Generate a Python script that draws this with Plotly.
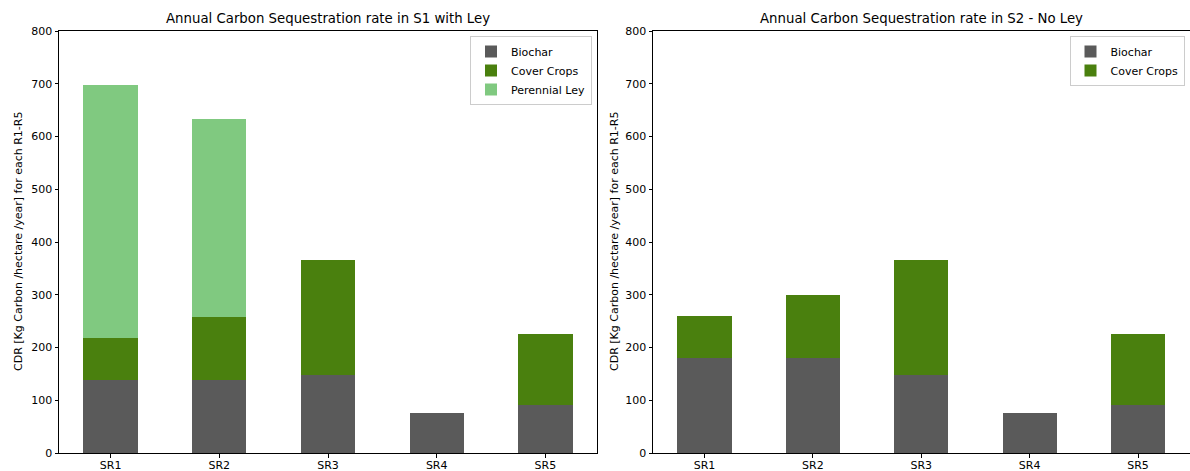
import plotly.graph_objects as go

categories = ["SR1", "SR2", "SR3", "SR4", "SR5"]

# Scenario S1 (with ley) – kg C / ha / year
s1_biochar = [138, 138, 147, 75, 91]
s1_cover = [80, 120, 218, 0, 134]
s1_ley = [480, 375, 0, 0, 0]

# Scenario S2 (no ley)
s2_biochar = [181, 181, 147, 75, 91]
s2_cover = [79, 119, 218, 0, 134]

y_ticks = [0, 100, 200, 300, 400, 500, 600, 700, 800]

C_BIOCHAR = "#5a5a5a"
C_COVER = "#4a800e"
C_LEY = "#80c980"

FONT = "DejaVu Sans"
W, H = 1190, 471
fig = go.Figure()

def add_bar(name, vals, color, xa, ya, legend, show=True):
    fig.add_trace(go.Bar(
        x=categories, y=vals, name=name, width=0.5,
        marker=dict(color=color, line=dict(width=0)),
        xaxis=xa, yaxis=ya, legend=legend, showlegend=show,
    ))

add_bar("Biochar", s1_biochar, C_BIOCHAR, "x", "y", "legend")
add_bar("Cover Crops", s1_cover, C_COVER, "x", "y", "legend")
add_bar("Perennial Ley", s1_ley, C_LEY, "x", "y", "legend")
add_bar("Biochar", s2_biochar, C_BIOCHAR, "x2", "y2", "legend2")
add_bar("Cover Crops", s2_cover, C_COVER, "x2", "y2", "legend2")

y_top = 1 - 31 / H
y_bot = 1 - 453 / H
d1 = [59 / W, 597 / W]
d2 = [653 / W, 1189.5 / W]

axis_common = dict(
    showline=True, linecolor="black", linewidth=1, mirror=True,
    ticks="outside", ticklen=3.5, tickcolor="black", showgrid=False,
    zeroline=False, automargin=False,
    tickfont=dict(family=FONT, size=11, color="black"),
)

xa = dict(axis_common, type="category", range=[-0.475, 4.475],
          ticklabelstandoff=-2)
ya = dict(axis_common, range=[0, 800], tickvals=y_ticks, domain=[y_bot, y_top])

legend_style = dict(
    bgcolor="rgba(255,255,255,0.8)", bordercolor="#cccccc", borderwidth=1,
    font=dict(family=FONT, size=11, color="black"),
    yanchor="top", xanchor="right", traceorder="normal", itemsizing="constant",
    tracegroupgap=0,
)

fig.update_layout(
    width=W, height=H,
    margin=dict(l=0, r=0, t=0, b=0, autoexpand=False),
    paper_bgcolor="white", plot_bgcolor="white",
    barmode="stack",
    xaxis=dict(xa, domain=d1, anchor="y"),
    yaxis=dict(ya, anchor="x"),
    xaxis2=dict(xa, domain=d2, anchor="y2"),
    yaxis2=dict(ya, anchor="x2"),
    legend=dict(legend_style, x=d1[1] - 5 / W, y=y_top - 5 / H),
    legend2=dict(legend_style, x=d2[1] - 5 / W, y=y_top - 5 / H),
    showlegend=True,
    font=dict(family=FONT, color="black"),
)

titles = [
    ("Annual Carbon Sequestration rate in S1 with Ley", (d1[0] + d1[1]) / 2),
    ("Annual Carbon Sequestration rate in S2 - No Ley", (d2[0] + d2[1]) / 2),
]
for text, xc in titles:
    fig.add_annotation(
        text=text, x=xc, y=1 - 19 / H, xref="paper", yref="paper",
        showarrow=False, xanchor="center", yanchor="middle",
        font=dict(family=FONT, size=13.3, color="black"),
    )

ylabel = "CDR [Kg Carbon /hectare /year] for each R1-R5"
for xp in (18 / W, 614 / W):
    fig.add_annotation(
        text=ylabel, x=xp, y=(y_top + y_bot) / 2, xref="paper", yref="paper",
        showarrow=False, textangle=-90, xanchor="center", yanchor="middle",
        font=dict(family=FONT, size=11, color="black"),
    )

fig.write_html("out.html")
